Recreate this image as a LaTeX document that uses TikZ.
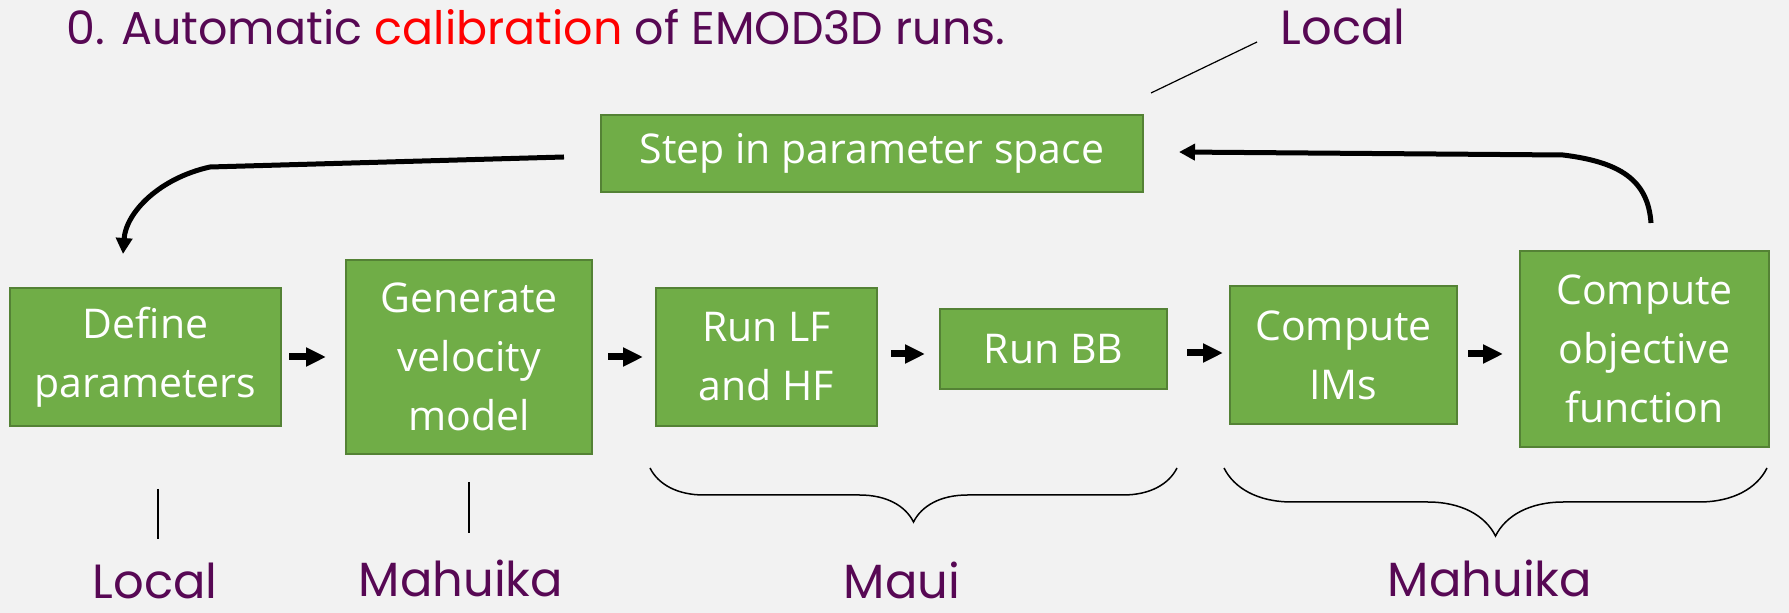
\documentclass[tikz,border=0pt]{standalone}
\usepackage{fontspec}
\setmainfont{Poppins}
\newfontfamily\boxfont{Open Sans}
\usetikzlibrary{arrows.meta,calc,decorations.pathreplacing}
\definecolor{slidebg}{RGB}{242,242,242}
\definecolor{boxfill}{RGB}{112,173,71}
\definecolor{boxline}{RGB}{84,130,53}
\definecolor{titlepurple}{RGB}{87,8,84}
\definecolor{hotred}{RGB}{255,0,0}

\begin{document}
\begin{tikzpicture}[x=0.5pt,y=-0.5pt,
    stepbox/.style={draw=boxline, line width=1pt, fill=boxfill, text=white, align=center,
        inner sep=0pt, font=\boxfont\fontsize{20.5}{29.5}\selectfont},
    flow/.style={line width=3.5pt, -{Triangle[length=10pt,width=9pt]}},
    loopback/.style={line width=2.5pt, line join=round, -{Triangle[length=8pt,width=8pt]}},
    place/.style={text=titlepurple, font=\fontsize{24}{28}\selectfont, inner sep=0pt, anchor=base},
    group/.style={decorate, decoration={brace, mirror, amplitude=#1}, line width=0.75pt}]

    % Slide background
    \useasboundingbox (0,0) rectangle (1789,613);
    \fill[slidebg] (0,0) rectangle (1789,613);

    % Title
    \node[anchor=base west, inner sep=0pt, text=titlepurple, font=\fontsize{23}{28}\selectfont]
        (title) at (66,45) {0. Automatic {\color{hotred}calibration} of EMOD3D runs.};

    % Process boxes
    \node[stepbox, minimum width=271pt, minimum height=38.5pt] (step) at (872,153.5) {Step in parameter space};
    \node[stepbox, minimum width=135.5pt, minimum height=69pt] (define) at (145.5,357) {Define\\parameters};
    \node[stepbox, minimum width=123pt, minimum height=97pt] (gen) at (469,357) {Generate\\velocity\\model};
    \node[stepbox, minimum width=110.5pt, minimum height=69pt] (runlf) at (766.5,357) {Run LF\\and HF};
    \node[stepbox, minimum width=113.5pt, minimum height=40pt] (runbb) at (1053.5,349) {Run BB};
    \node[stepbox, minimum width=113.5pt, minimum height=69pt] (ims) at (1343.5,355) {Compute\\IMs};
    \node[stepbox, minimum width=124.5pt, minimum height=98pt] (obj) at (1644.5,349) {Compute\\objective\\function};

    % Short arrows along the chain
    \foreach \a/\b/\s/\e/\dy in {define/gen/3.5/9.5/0, gen/runlf/7.5/6/0, runlf/runbb/6.5/7/-3,
                                 runbb/ims/9.5/3/4, ims/obj/5/8/-1} {
        \draw[flow, shorten <=\s pt, shorten >=\e pt]
            ($(\a.east)+(0,\dy)$) -- ($(\a.east -| \b.west)+(0,\dy)$);
    }

    % Loop back through the parameter space
    \draw[loopback] ($(obj.north)+(6.5,-27)$) .. controls (1648,180) and (1620,162) .. (1563,155)
        -- ($(step.east)+(35,-1.5)$);
    \draw[loopback] ($(step.west)+(-36,3.5)$) -- (210,167)
        .. controls (160,178) and (126,212) .. ($(define.north)+(-22.5,-33)$);

    % Where each stage runs
    \draw[line width=0.6pt] (1151,93) -- (1257,42);
    \node[place] (ltop) at (1343,45) {Local};

    \draw[line width=0.6pt] (158,489) -- (158,539);
    \draw[line width=0.6pt] (469,482) -- (469,533);
    \draw[group=27pt] (650,468) -- (1177,468);
    \draw[group=34pt] (1224,468) -- (1767,468);

    \node[place] (lloc) at (155,599) {Local};
    \node[place] (lmah) at (461,597) {Mahuika};
    \node[place] (lmaui) at (902,599) {Maui};
    \node[place] (rmah) at (1490,597) {Mahuika};
\end{tikzpicture}
\end{document}
